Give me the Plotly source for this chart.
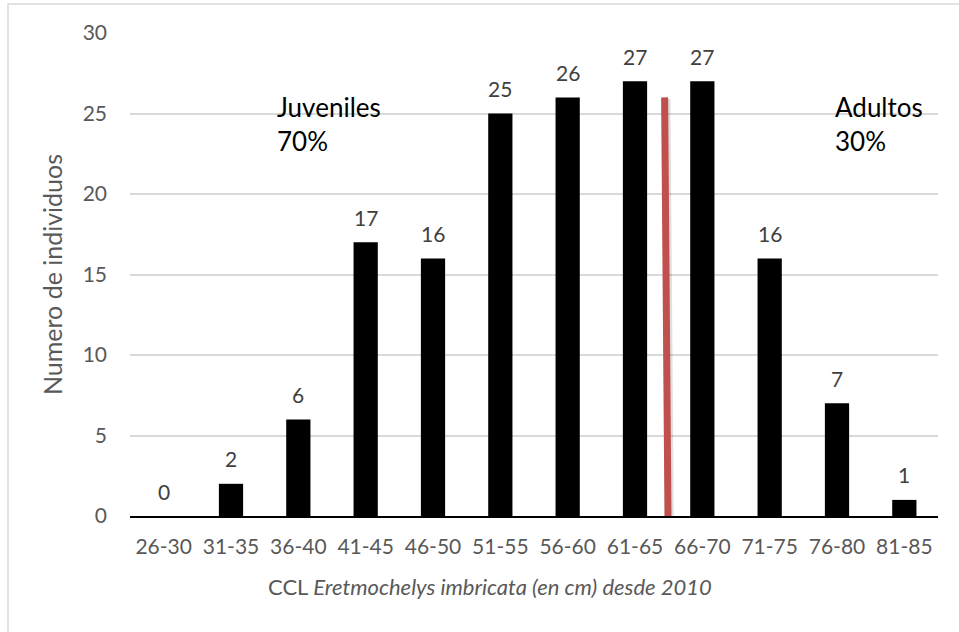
import plotly.graph_objects as go

# Size classes (curved carapace length, cm) and number of individuals
categories = ["26-30", "31-35", "36-40", "41-45", "46-50", "51-55",
              "56-60", "61-65", "66-70", "71-75", "76-80", "81-85"]
counts = [0, 2, 6, 17, 16, 25, 26, 27, 27, 16, 7, 1]

# Juvenile / adult divider (category-index position and height)
divider_x_top = 7.44
divider_x_bottom = 7.49
divider_top = 26
divider_bottom = -0.12

y_ticks = [0, 5, 10, 15, 20, 25, 30]

FONT = "Lato, 'Open Sans', sans-serif"
TICK_SIZE = 21

fig = go.Figure()
fig.add_trace(go.Bar(
    x=categories,
    y=counts,
    marker=dict(color="#000000", line=dict(width=0)),
    width=0.36,
    hoverinfo="x+y",
))

# Value labels above each bar
for cat, v in zip(categories, counts):
    fig.add_annotation(x=cat, y=v, xref="x", yref="y",
                       text=str(v), showarrow=False,
                       yanchor="middle", yshift=25,
                       font=dict(family=FONT, size=TICK_SIZE, color="#404040"))

# Divider line with a soft shadow
fig.add_shape(type="line", xref="x", yref="y",
              x0=divider_x_top + 0.02, y0=divider_top - 0.1,
              x1=divider_x_bottom + 0.02, y1=divider_bottom - 0.15,
              line=dict(color="rgba(0,0,0,0.12)", width=9), layer="above")
fig.add_shape(type="line", xref="x", yref="y",
              x0=divider_x_top, y0=divider_top,
              x1=divider_x_bottom, y1=divider_bottom,
              line=dict(color="#C0504D", width=7), layer="above")

# Outer chart border
fig.add_shape(type="rect", xref="paper", yref="paper",
              x0=-0.151, y0=-0.4, x1=1.2, y1=1.060,
              line=dict(color="#D9D9D9", width=1.5),
              fillcolor="rgba(0,0,0,0)", layer="below")

# Group labels
fig.add_annotation(x=1.66, y=24.35, xref="x", yref="y",
                   text="Juveniles<br>70%", showarrow=False,
                   xanchor="left", yanchor="middle", align="left",
                   font=dict(family=FONT, size=26, color="#000000"))
fig.add_annotation(x=9.94, y=24.35, xref="x", yref="y",
                   text="Adultos<br>30%", showarrow=False,
                   xanchor="left", yanchor="middle", align="left",
                   font=dict(family=FONT, size=26, color="#000000"))

# Horizontal axis title, centred on the whole chart area
fig.add_annotation(x=0.4455, y=-0.145, xref="paper", yref="paper",
                   text="CCL <i>Eretmochelys imbricata (en cm) desde 2010</i>",
                   showarrow=False, xanchor="center", yanchor="middle",
                   font=dict(family=FONT, size=22, color="#595959"))

fig.update_layout(
    width=959, height=632,
    margin=dict(l=130, r=21, t=33, b=116),
    plot_bgcolor="white",
    paper_bgcolor="white",
    showlegend=False,
    bargap=0.64,
    font=dict(family=FONT, color="#595959"),
    xaxis=dict(
        type="category",
        showgrid=False,
        showline=True, linecolor="#000000", linewidth=1.5,
        ticks="", tickfont=dict(family=FONT, size=TICK_SIZE, color="#595959"),
        ticklabelstandoff=11,
        range=[-0.5, 11.5],
    ),
    yaxis=dict(
        range=[0, 30],
        tickvals=y_ticks,
        showgrid=True, gridcolor="#D9D9D9", gridwidth=1.5,
        zeroline=False, showline=False, ticks="",
        tickfont=dict(family=FONT, size=TICK_SIZE, color="#595959"),
        ticklabelstandoff=22,
        title=dict(text="Numero de individuos",
                   font=dict(family=FONT, size=25, color="#595959"),
                   standoff=12),
    ),
)

fig.write_html("out.html")
